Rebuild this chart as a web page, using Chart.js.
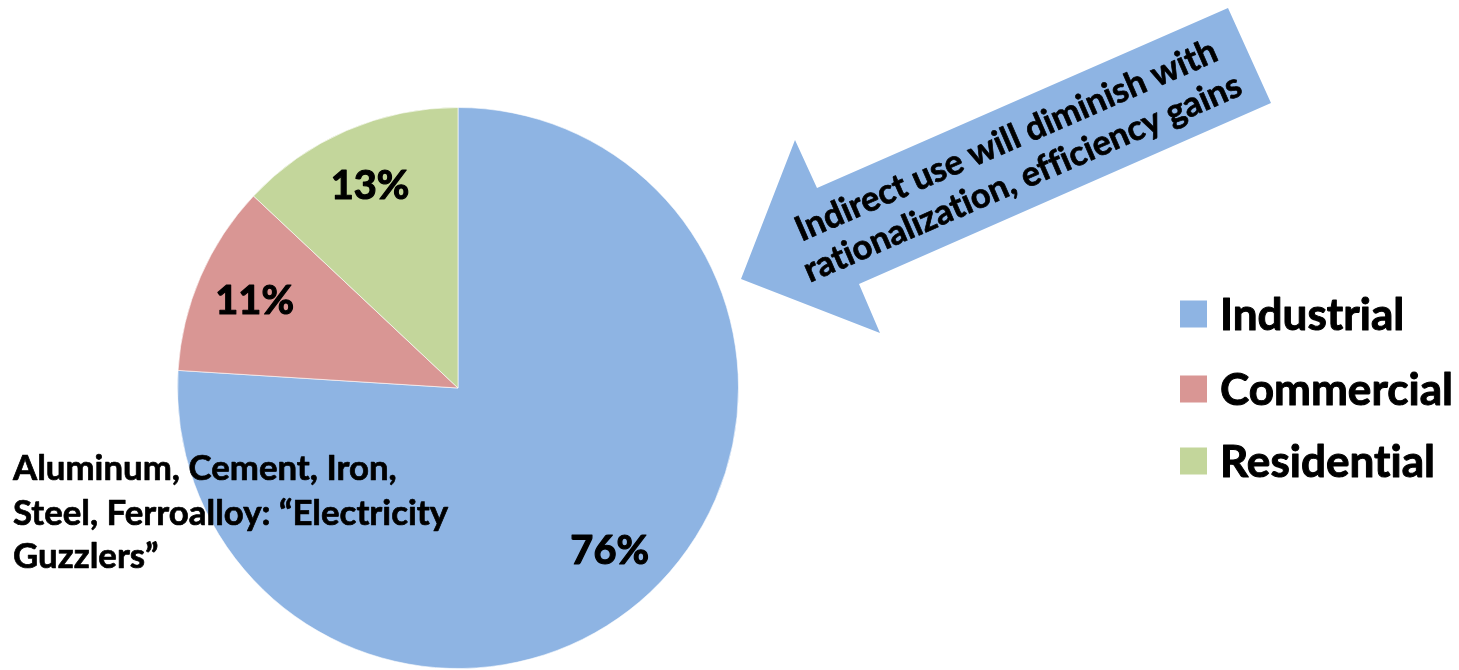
<!DOCTYPE html>
<html>
<head>
<meta charset="utf-8">
<script src="https://cdn.jsdelivr.net/npm/chart.js@4.4.0/dist/chart.umd.min.js"></script>
<style>
  html, body { margin: 0; padding: 0; background: #ffffff; }
  #wrap { position: relative; width: 1459px; height: 670px; }
</style>
</head>
<body>
<div id="wrap"><canvas id="c"></canvas></div>
<script>
// ---- data ----
const categories = ['Industrial', 'Commercial', 'Residential'];
const shares = [76, 11, 13];
const percentLabels = ['76%', '11%', '13%'];
const sliceColors = ['#8EB4E3', '#D99694', '#C3D69B'];
const arrowText = ['Indirect use will diminish with', 'rationalization, efficiency gains'];
const noteText = ['Aluminum, Cement, Iron,', 'Steel, Ferroalloy: \u201CElectricity', 'Guzzlers\u201D'];

const FONT = 'Lato, "Open Sans", "Liberation Sans", sans-serif';
const WEIGHT = 'bold';

function setFont(ctx, size) { ctx.font = WEIGHT + ' ' + size + 'px ' + FONT; }
function fitFont(ctx, text, targetWidth) {
  setFont(ctx, 100);
  const w = ctx.measureText(text).width;
  return 100 * targetWidth / w;
}
function fitCap(ctx, targetCap) {
  setFont(ctx, 100);
  return 100 * targetCap / ctx.measureText('1').actualBoundingBoxAscent;
}
function capHeight(ctx) {
  return ctx.measureText('I').actualBoundingBoxAscent;
}
function heavyText(ctx, t, x, y, sw) {
  ctx.lineWidth = sw;
  ctx.lineJoin = 'round';
  ctx.strokeStyle = '#000';
  ctx.strokeText(t, x, y);
  ctx.fillText(t, x, y);
}

const overlay = {
  id: 'overlay',
  afterDraw(chart) {
    const ctx = chart.ctx;
    ctx.save();
    if ('letterSpacing' in ctx) ctx.letterSpacing = '0.01px';
    ctx.fillStyle = '#000';

    // percent labels inside slices
    const meta = chart.getDatasetMeta(0);
    const pSize = fitCap(ctx, 29);
    setFont(ctx, pSize);
    const pCap = capHeight(ctx);
    ctx.textAlign = 'center';
    ctx.textBaseline = 'alphabetic';
    meta.data.forEach((arc, i) => {
      const p = arc.getProps(['x', 'y', 'startAngle', 'endAngle', 'outerRadius'], true);
      const mid = (p.startAngle + p.endAngle) / 2;
      const r = p.outerRadius * 0.79;
      const x = p.x + Math.cos(mid) * r;
      const y = p.y + Math.sin(mid) * r;
      heavyText(ctx, percentLabels[i], x, y + pCap / 2, 1.2);
    });

    // arrow annotation
    ctx.fillStyle = '#8EB4E3';
    ctx.beginPath();
    ctx.moveTo(741, 279);
    ctx.lineTo(795, 140);
    ctx.lineTo(817, 188);
    ctx.lineTo(1228, 8);
    ctx.lineTo(1271, 103);
    ctx.lineTo(859, 284);
    ctx.lineTo(880, 333);
    ctx.closePath();
    ctx.fill();

    ctx.fillStyle = '#000';
    const aSize = fitFont(ctx, arrowText[1], 474);
    setFont(ctx, aSize);
    ctx.save();
    ctx.translate(1019, 170);
    ctx.rotate(-23.5 * Math.PI / 180);
    ctx.textAlign = 'center';
    ctx.textBaseline = 'alphabetic';
    heavyText(ctx, arrowText[0], 0, -21, 0.7);
    heavyText(ctx, arrowText[1], 0, 20, 0.7);
    ctx.restore();

    // left note
    const nSize = fitFont(ctx, noteText[1], 435);
    setFont(ctx, nSize);
    ctx.textAlign = 'left';
    ctx.textBaseline = 'alphabetic';
    const noteBase = [480, 525, 568];
    noteText.forEach((t, i) => heavyText(ctx, t, 13, noteBase[i], 0.7));

    // legend
    const lSize = fitFont(ctx, 'Commercial', 233);
    setFont(ctx, lSize);
    const lCap = capHeight(ctx);
    const rowCenters = [314, 389, 461];
    categories.forEach((name, i) => {
      ctx.fillStyle = sliceColors[i];
      ctx.fillRect(1180, rowCenters[i] - 13.5, 27, 27);
      ctx.fillStyle = '#000';
      heavyText(ctx, name, 1220, rowCenters[i] + lCap / 2, 1.0);
    });

    ctx.restore();
  }
};

new Chart(document.getElementById('c'), {
  type: 'pie',
  data: {
    labels: categories,
    datasets: [{
      data: shares,
      backgroundColor: sliceColors,
      borderColor: 'rgba(255,255,255,0.6)',
      borderWidth: 1
    }]
  },
  options: {
    responsive: true,
    maintainAspectRatio: false,
    animation: false,
    layout: { padding: { left: 177, right: 720, top: 107, bottom: 1 } },
    plugins: {
      legend: { display: false },
      tooltip: { enabled: false },
      title: { display: false }
    }
  },
  plugins: [overlay]
});
</script>
</body>
</html>
